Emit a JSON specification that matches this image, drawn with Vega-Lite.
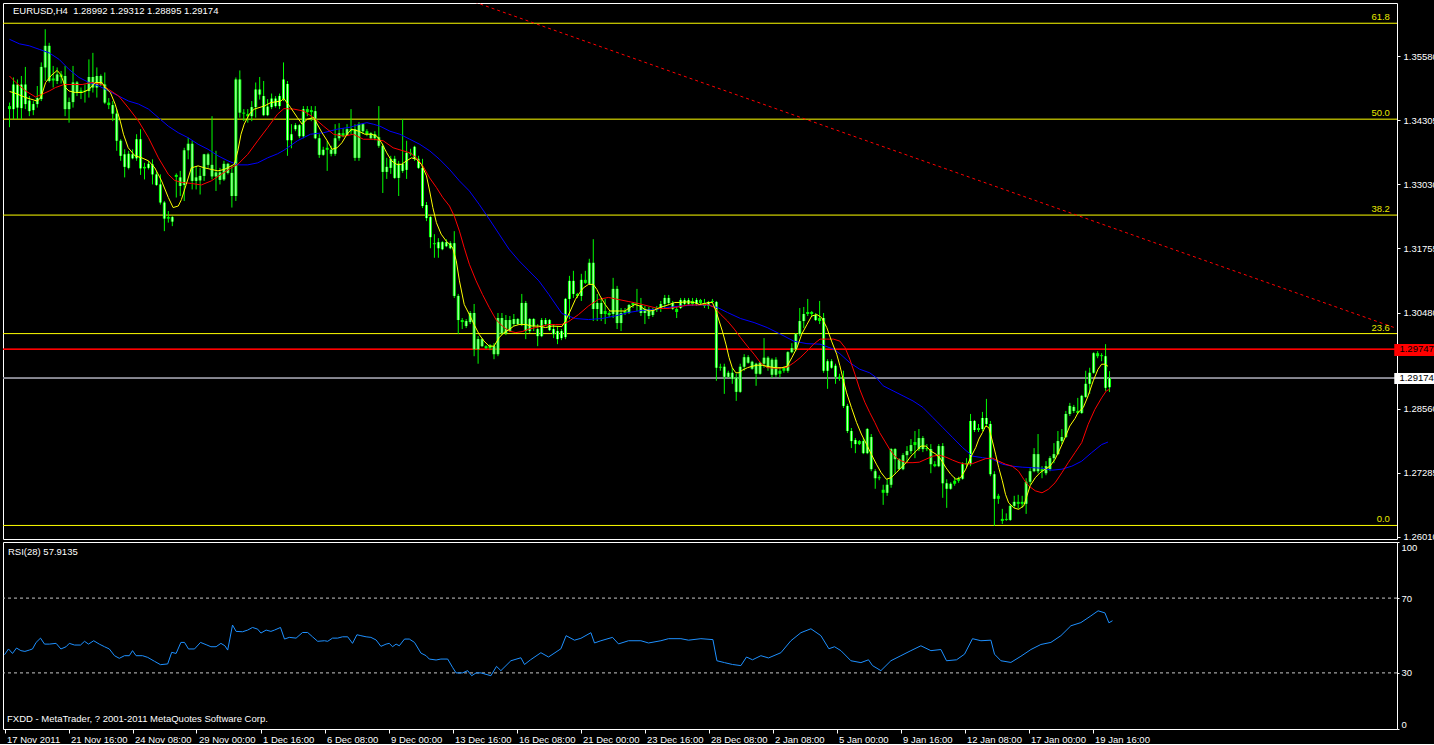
{
"$schema": "https://vega.github.io/schema/vega-lite/v6.json",
"background": "#000000",
"padding": {"left": 2, "top": 2, "right": 0, "bottom": 0},
"spacing": 3,
"bounds": "flush",
"config": {
 "view": {"stroke": "#ffffff", "strokeWidth": 1},
 "axis": {"labelFont": "Liberation Sans", "labelFontSize": 9.5, "labelColor": "#ffffff", "tickColor": "#ffffff", "domain": false, "grid": false},
 "text": {"font": "Liberation Sans", "fontSize": 9.5}
},
"resolve": {"scale": {"x": "independent", "y": "independent"}, "axis": {"x": "independent", "y": "independent"}},
"datasets": {
 "fib": [{"p":1.3624,"lab":"61.8"},{"p":1.3433,"lab":"50.0"},{"p":1.3242,"lab":"38.2"},{"p":1.3006,"lab":"23.6"},{"p":1.2624,"lab":"0.0"}],
 "trend": [{"i":110,"p":1.36861},{"i":349,"p":1.30172}],
 "c": [
{"i":0,"o":1.3453,"h":1.3466,"l":1.3417,"c":1.3459},
{"i":1,"o":1.3453,"h":1.3516,"l":1.3433,"c":1.3502},
{"i":2,"o":1.3502,"h":1.3512,"l":1.3433,"c":1.3456},
{"i":3,"o":1.3455,"h":1.3519,"l":1.3433,"c":1.3502},
{"i":4,"o":1.3502,"h":1.3537,"l":1.3453,"c":1.3463},
{"i":5,"o":1.3470,"h":1.3479,"l":1.3439,"c":1.3449},
{"i":6,"o":1.3451,"h":1.3469,"l":1.3441,"c":1.3463},
{"i":7,"o":1.3463,"h":1.3499,"l":1.3456,"c":1.3475},
{"i":8,"o":1.3473,"h":1.3546,"l":1.3469,"c":1.3537},
{"i":9,"o":1.3536,"h":1.3612,"l":1.3509,"c":1.3579},
{"i":10,"o":1.3579,"h":1.3585,"l":1.3506,"c":1.3509},
{"i":11,"o":1.3510,"h":1.3539,"l":1.3496,"c":1.3514},
{"i":12,"o":1.3509,"h":1.3536,"l":1.3503,"c":1.3522},
{"i":13,"o":1.3522,"h":1.3529,"l":1.3504,"c":1.3517},
{"i":14,"o":1.3519,"h":1.3539,"l":1.3439,"c":1.3453},
{"i":15,"o":1.3453,"h":1.3476,"l":1.3426,"c":1.3467},
{"i":16,"o":1.3467,"h":1.3539,"l":1.3456,"c":1.3506},
{"i":17,"o":1.3506,"h":1.3509,"l":1.3479,"c":1.3486},
{"i":18,"o":1.3486,"h":1.3496,"l":1.3473,"c":1.3490},
{"i":19,"o":1.3490,"h":1.3502,"l":1.3466,"c":1.3488},
{"i":20,"o":1.3489,"h":1.3552,"l":1.3476,"c":1.3517},
{"i":21,"o":1.3517,"h":1.3565,"l":1.3486,"c":1.3496},
{"i":22,"o":1.3496,"h":1.3536,"l":1.3476,"c":1.3519},
{"i":23,"o":1.3519,"h":1.3522,"l":1.3499,"c":1.3502},
{"i":24,"o":1.3502,"h":1.3526,"l":1.3463,"c":1.3466},
{"i":25,"o":1.3466,"h":1.3475,"l":1.3453,"c":1.3461},
{"i":26,"o":1.3461,"h":1.3469,"l":1.3429,"c":1.3444},
{"i":27,"o":1.3444,"h":1.3453,"l":1.3370,"c":1.3390},
{"i":28,"o":1.3390,"h":1.3393,"l":1.3350,"c":1.3360},
{"i":29,"o":1.3363,"h":1.3373,"l":1.3317,"c":1.3338},
{"i":30,"o":1.3336,"h":1.3370,"l":1.3333,"c":1.3364},
{"i":31,"o":1.3363,"h":1.3373,"l":1.3353,"c":1.3355},
{"i":32,"o":1.3355,"h":1.3403,"l":1.3350,"c":1.3393},
{"i":33,"o":1.3393,"h":1.3413,"l":1.3322,"c":1.3335},
{"i":34,"o":1.3335,"h":1.3346,"l":1.3313,"c":1.3338},
{"i":35,"o":1.3336,"h":1.3350,"l":1.3333,"c":1.3344},
{"i":36,"o":1.3343,"h":1.3353,"l":1.3303,"c":1.3323},
{"i":37,"o":1.3323,"h":1.3330,"l":1.3300,"c":1.3302},
{"i":38,"o":1.3303,"h":1.3323,"l":1.3263,"c":1.3267},
{"i":39,"o":1.3267,"h":1.3270,"l":1.3210,"c":1.3235},
{"i":40,"o":1.3235,"h":1.3250,"l":1.3227,"c":1.3238},
{"i":41,"o":1.3229,"h":1.3240,"l":1.3220,"c":1.3238},
{"i":42,"o":1.3318,"h":1.3325,"l":1.3277,"c":1.3322},
{"i":43,"o":1.3317,"h":1.3330,"l":1.3280,"c":1.3300},
{"i":44,"o":1.3302,"h":1.3376,"l":1.3270,"c":1.3371},
{"i":45,"o":1.3371,"h":1.3396,"l":1.3353,"c":1.3384},
{"i":46,"o":1.3384,"h":1.3390,"l":1.3293,"c":1.3310},
{"i":47,"o":1.3310,"h":1.3340,"l":1.3293,"c":1.3317},
{"i":48,"o":1.3311,"h":1.3336,"l":1.3283,"c":1.3320},
{"i":49,"o":1.3320,"h":1.3364,"l":1.3310,"c":1.3363},
{"i":50,"o":1.3363,"h":1.3366,"l":1.3336,"c":1.3342},
{"i":51,"o":1.3342,"h":1.3439,"l":1.3313,"c":1.3319},
{"i":52,"o":1.3319,"h":1.3370,"l":1.3290,"c":1.3327},
{"i":53,"o":1.3327,"h":1.3336,"l":1.3303,"c":1.3312},
{"i":54,"o":1.3313,"h":1.3350,"l":1.3310,"c":1.3344},
{"i":55,"o":1.3344,"h":1.3346,"l":1.3323,"c":1.3326},
{"i":56,"o":1.3326,"h":1.3340,"l":1.3257,"c":1.3280},
{"i":57,"o":1.3280,"h":1.3516,"l":1.3270,"c":1.3512},
{"i":58,"o":1.3512,"h":1.3530,"l":1.3436,"c":1.3446},
{"i":59,"o":1.3446,"h":1.3453,"l":1.3429,"c":1.3444},
{"i":60,"o":1.3443,"h":1.3453,"l":1.3426,"c":1.3439},
{"i":61,"o":1.3439,"h":1.3469,"l":1.3429,"c":1.3457},
{"i":62,"o":1.3457,"h":1.3506,"l":1.3436,"c":1.3492},
{"i":63,"o":1.3492,"h":1.3517,"l":1.3472,"c":1.3482},
{"i":64,"o":1.3479,"h":1.3509,"l":1.3439,"c":1.3441},
{"i":65,"o":1.3441,"h":1.3473,"l":1.3439,"c":1.3458},
{"i":66,"o":1.3457,"h":1.3484,"l":1.3453,"c":1.3474},
{"i":67,"o":1.3474,"h":1.3479,"l":1.3456,"c":1.3459},
{"i":68,"o":1.3459,"h":1.3484,"l":1.3453,"c":1.3479},
{"i":69,"o":1.3473,"h":1.3546,"l":1.3469,"c":1.3512},
{"i":70,"o":1.3503,"h":1.3509,"l":1.3360,"c":1.3391},
{"i":71,"o":1.3391,"h":1.3423,"l":1.3375,"c":1.3403},
{"i":72,"o":1.3413,"h":1.3425,"l":1.3409,"c":1.3421},
{"i":73,"o":1.3421,"h":1.3423,"l":1.3395,"c":1.3399},
{"i":74,"o":1.3399,"h":1.3459,"l":1.3395,"c":1.3453},
{"i":75,"o":1.3453,"h":1.3459,"l":1.3439,"c":1.3447},
{"i":76,"o":1.3447,"h":1.3459,"l":1.3429,"c":1.3451},
{"i":77,"o":1.3449,"h":1.3459,"l":1.3393,"c":1.3395},
{"i":78,"o":1.3395,"h":1.3403,"l":1.3356,"c":1.3362},
{"i":79,"o":1.3362,"h":1.3378,"l":1.3360,"c":1.3372},
{"i":80,"o":1.3372,"h":1.3390,"l":1.3330,"c":1.3376},
{"i":81,"o":1.3372,"h":1.3380,"l":1.3359,"c":1.3364},
{"i":82,"o":1.3364,"h":1.3423,"l":1.3360,"c":1.3395},
{"i":83,"o":1.3395,"h":1.3425,"l":1.3390,"c":1.3405},
{"i":84,"o":1.3405,"h":1.3415,"l":1.3397,"c":1.3399},
{"i":85,"o":1.3401,"h":1.3423,"l":1.3401,"c":1.3413},
{"i":86,"o":1.3413,"h":1.3453,"l":1.3403,"c":1.3409},
{"i":87,"o":1.3413,"h":1.3423,"l":1.3350,"c":1.3356},
{"i":88,"o":1.3356,"h":1.3427,"l":1.3350,"c":1.3423},
{"i":89,"o":1.3423,"h":1.3425,"l":1.3403,"c":1.3409},
{"i":90,"o":1.3409,"h":1.3413,"l":1.3399,"c":1.3403},
{"i":91,"o":1.3405,"h":1.3407,"l":1.3393,"c":1.3395},
{"i":92,"o":1.3395,"h":1.3409,"l":1.3391,"c":1.3403},
{"i":93,"o":1.3397,"h":1.3459,"l":1.3376,"c":1.3380},
{"i":94,"o":1.3380,"h":1.3384,"l":1.3286,"c":1.3328},
{"i":95,"o":1.3328,"h":1.3356,"l":1.3314,"c":1.3338},
{"i":96,"o":1.3336,"h":1.3360,"l":1.3324,"c":1.3354},
{"i":97,"o":1.3354,"h":1.3360,"l":1.3314,"c":1.3316},
{"i":98,"o":1.3316,"h":1.3350,"l":1.3280,"c":1.3344},
{"i":99,"o":1.3344,"h":1.3433,"l":1.3326,"c":1.3330},
{"i":100,"o":1.3332,"h":1.3390,"l":1.3314,"c":1.3366},
{"i":101,"o":1.3366,"h":1.3374,"l":1.3360,"c":1.3364},
{"i":102,"o":1.3378,"h":1.3380,"l":1.3350,"c":1.3354},
{"i":103,"o":1.3354,"h":1.3360,"l":1.3334,"c":1.3336},
{"i":104,"o":1.3336,"h":1.3354,"l":1.3256,"c":1.3260},
{"i":105,"o":1.3262,"h":1.3268,"l":1.3230,"c":1.3236},
{"i":106,"o":1.3238,"h":1.3240,"l":1.3176,"c":1.3198},
{"i":107,"o":1.3186,"h":1.3204,"l":1.3157,"c":1.3184},
{"i":108,"o":1.3176,"h":1.3196,"l":1.3157,"c":1.3188},
{"i":109,"o":1.3188,"h":1.3190,"l":1.3172,"c":1.3174},
{"i":110,"o":1.3180,"h":1.3194,"l":1.3178,"c":1.3188},
{"i":111,"o":1.3186,"h":1.3190,"l":1.3174,"c":1.3176},
{"i":112,"o":1.3186,"h":1.3210,"l":1.3077,"c":1.3081},
{"i":113,"o":1.3081,"h":1.3085,"l":1.3005,"c":1.3033},
{"i":114,"o":1.3033,"h":1.3037,"l":1.3015,"c":1.3029},
{"i":115,"o":1.3031,"h":1.3035,"l":1.3017,"c":1.3021},
{"i":116,"o":1.3029,"h":1.3051,"l":1.3025,"c":1.3047},
{"i":117,"o":1.3047,"h":1.3065,"l":1.2961,"c":1.2975},
{"i":118,"o":1.2975,"h":1.3001,"l":1.2946,"c":1.2995},
{"i":119,"o":1.2995,"h":1.2997,"l":1.2979,"c":1.2981},
{"i":120,"o":1.2981,"h":1.2983,"l":1.2975,"c":1.2977},
{"i":121,"o":1.2977,"h":1.2985,"l":1.2973,"c":1.2983},
{"i":122,"o":1.2981,"h":1.2987,"l":1.2955,"c":1.2965},
{"i":123,"o":1.2965,"h":1.3047,"l":1.2961,"c":1.3037},
{"i":124,"o":1.3037,"h":1.3047,"l":1.3003,"c":1.3007},
{"i":125,"o":1.3007,"h":1.3043,"l":1.3003,"c":1.3033},
{"i":126,"o":1.3033,"h":1.3041,"l":1.3009,"c":1.3011},
{"i":127,"o":1.3025,"h":1.3045,"l":1.3021,"c":1.3035},
{"i":128,"o":1.3035,"h":1.3037,"l":1.3023,"c":1.3025},
{"i":129,"o":1.3025,"h":1.3085,"l":1.3021,"c":1.3067},
{"i":130,"o":1.3067,"h":1.3071,"l":1.2995,"c":1.3011},
{"i":131,"o":1.3011,"h":1.3037,"l":1.3007,"c":1.3035},
{"i":132,"o":1.3035,"h":1.3037,"l":1.3011,"c":1.3021},
{"i":133,"o":1.3015,"h":1.3025,"l":1.2981,"c":1.3001},
{"i":134,"o":1.3001,"h":1.3037,"l":1.2999,"c":1.3033},
{"i":135,"o":1.3033,"h":1.3037,"l":1.3021,"c":1.3025},
{"i":136,"o":1.3033,"h":1.3035,"l":1.3011,"c":1.3013},
{"i":137,"o":1.3015,"h":1.3025,"l":1.2997,"c":1.3005},
{"i":138,"o":1.2995,"h":1.3021,"l":1.2985,"c":1.3011},
{"i":139,"o":1.3011,"h":1.3015,"l":1.2993,"c":1.2997},
{"i":140,"o":1.2999,"h":1.3077,"l":1.2995,"c":1.3075},
{"i":141,"o":1.3075,"h":1.3121,"l":1.3035,"c":1.3111},
{"i":142,"o":1.3111,"h":1.3131,"l":1.3077,"c":1.3085},
{"i":143,"o":1.3085,"h":1.3087,"l":1.3077,"c":1.3081},
{"i":144,"o":1.3081,"h":1.3125,"l":1.3071,"c":1.3113},
{"i":145,"o":1.3113,"h":1.3131,"l":1.3105,"c":1.3107},
{"i":146,"o":1.3105,"h":1.3155,"l":1.3103,"c":1.3147},
{"i":147,"o":1.3147,"h":1.3194,"l":1.3031,"c":1.3055},
{"i":148,"o":1.3055,"h":1.3085,"l":1.3031,"c":1.3067},
{"i":149,"o":1.3067,"h":1.3077,"l":1.3031,"c":1.3045},
{"i":150,"o":1.3045,"h":1.3075,"l":1.3025,"c":1.3051},
{"i":151,"o":1.3047,"h":1.3051,"l":1.3039,"c":1.3043},
{"i":152,"o":1.3045,"h":1.3117,"l":1.3037,"c":1.3095},
{"i":153,"o":1.3095,"h":1.3101,"l":1.3015,"c":1.3027},
{"i":154,"o":1.3027,"h":1.3057,"l":1.3011,"c":1.3047},
{"i":155,"o":1.3047,"h":1.3057,"l":1.3043,"c":1.3051},
{"i":156,"o":1.3047,"h":1.3065,"l":1.3045,"c":1.3063},
{"i":157,"o":1.3063,"h":1.3069,"l":1.3057,"c":1.3067},
{"i":158,"o":1.3067,"h":1.3095,"l":1.3051,"c":1.3065},
{"i":159,"o":1.3063,"h":1.3077,"l":1.3041,"c":1.3047},
{"i":160,"o":1.3047,"h":1.3061,"l":1.3025,"c":1.3055},
{"i":161,"o":1.3055,"h":1.3059,"l":1.3035,"c":1.3041},
{"i":162,"o":1.3043,"h":1.3057,"l":1.3039,"c":1.3053},
{"i":163,"o":1.3053,"h":1.3061,"l":1.3049,"c":1.3057},
{"i":164,"o":1.3055,"h":1.3071,"l":1.3049,"c":1.3065},
{"i":165,"o":1.3065,"h":1.3083,"l":1.3055,"c":1.3077},
{"i":166,"o":1.3077,"h":1.3083,"l":1.3063,"c":1.3067},
{"i":167,"o":1.3067,"h":1.3071,"l":1.3053,"c":1.3055},
{"i":168,"o":1.3055,"h":1.3061,"l":1.3037,"c":1.3049},
{"i":169,"o":1.3057,"h":1.3077,"l":1.3055,"c":1.3073},
{"i":170,"o":1.3073,"h":1.3077,"l":1.3061,"c":1.3065},
{"i":171,"o":1.3065,"h":1.3077,"l":1.3061,"c":1.3073},
{"i":172,"o":1.3071,"h":1.3077,"l":1.3061,"c":1.3065},
{"i":173,"o":1.3065,"h":1.3077,"l":1.3061,"c":1.3073},
{"i":174,"o":1.3073,"h":1.3075,"l":1.3063,"c":1.3067},
{"i":175,"o":1.3067,"h":1.3075,"l":1.3057,"c":1.3061},
{"i":176,"o":1.3061,"h":1.3071,"l":1.3055,"c":1.3069},
{"i":177,"o":1.3069,"h":1.3075,"l":1.3067,"c":1.3071},
{"i":178,"o":1.3069,"h":1.3071,"l":1.2912,"c":1.2938},
{"i":179,"o":1.2938,"h":1.2946,"l":1.2932,"c":1.2940},
{"i":180,"o":1.2940,"h":1.2946,"l":1.2886,"c":1.2920},
{"i":181,"o":1.2920,"h":1.2932,"l":1.2918,"c":1.2928},
{"i":182,"o":1.2928,"h":1.2938,"l":1.2906,"c":1.2916},
{"i":183,"o":1.2918,"h":1.2926,"l":1.2872,"c":1.2890},
{"i":184,"o":1.2890,"h":1.2946,"l":1.2888,"c":1.2940},
{"i":185,"o":1.2940,"h":1.2965,"l":1.2932,"c":1.2959},
{"i":186,"o":1.2959,"h":1.2963,"l":1.2946,"c":1.2948},
{"i":187,"o":1.2950,"h":1.2952,"l":1.2934,"c":1.2936},
{"i":188,"o":1.2946,"h":1.2948,"l":1.2902,"c":1.2926},
{"i":189,"o":1.2926,"h":1.2950,"l":1.2924,"c":1.2948},
{"i":190,"o":1.2946,"h":1.2997,"l":1.2938,"c":1.2958},
{"i":191,"o":1.2958,"h":1.2961,"l":1.2932,"c":1.2938},
{"i":192,"o":1.2954,"h":1.2957,"l":1.2918,"c":1.2924},
{"i":193,"o":1.2924,"h":1.2959,"l":1.2920,"c":1.2954},
{"i":194,"o":1.2932,"h":1.2938,"l":1.2918,"c":1.2926},
{"i":195,"o":1.2932,"h":1.2940,"l":1.2928,"c":1.2938},
{"i":196,"o":1.2932,"h":1.2971,"l":1.2928,"c":1.2969},
{"i":197,"o":1.2969,"h":1.2987,"l":1.2967,"c":1.2977},
{"i":198,"o":1.2975,"h":1.3007,"l":1.2971,"c":1.3005},
{"i":199,"o":1.3005,"h":1.3057,"l":1.3001,"c":1.3031},
{"i":200,"o":1.3031,"h":1.3059,"l":1.3017,"c":1.3045},
{"i":201,"o":1.3045,"h":1.3075,"l":1.3041,"c":1.3049},
{"i":202,"o":1.3049,"h":1.3051,"l":1.3039,"c":1.3045},
{"i":203,"o":1.3043,"h":1.3047,"l":1.3031,"c":1.3033},
{"i":204,"o":1.3037,"h":1.3071,"l":1.3025,"c":1.3031},
{"i":205,"o":1.3037,"h":1.3047,"l":1.2928,"c":1.2932},
{"i":206,"o":1.2932,"h":1.2955,"l":1.2896,"c":1.2951},
{"i":207,"o":1.2951,"h":1.2955,"l":1.2936,"c":1.2938},
{"i":208,"o":1.2942,"h":1.2946,"l":1.2906,"c":1.2920},
{"i":209,"o":1.2920,"h":1.2926,"l":1.2912,"c":1.2916},
{"i":210,"o":1.2916,"h":1.2932,"l":1.2858,"c":1.2862},
{"i":211,"o":1.2862,"h":1.2866,"l":1.2808,"c":1.2812},
{"i":212,"o":1.2812,"h":1.2818,"l":1.2778,"c":1.2792},
{"i":213,"o":1.2794,"h":1.2798,"l":1.2768,"c":1.2786},
{"i":214,"o":1.2786,"h":1.2794,"l":1.2784,"c":1.2792},
{"i":215,"o":1.2792,"h":1.2798,"l":1.2766,"c":1.2768},
{"i":216,"o":1.2768,"h":1.2818,"l":1.2766,"c":1.2816},
{"i":217,"o":1.2800,"h":1.2806,"l":1.2732,"c":1.2736},
{"i":218,"o":1.2732,"h":1.2736,"l":1.2697,"c":1.2718},
{"i":219,"o":1.2720,"h":1.2724,"l":1.2714,"c":1.2718},
{"i":220,"o":1.2695,"h":1.2705,"l":1.2665,"c":1.2689},
{"i":221,"o":1.2689,"h":1.2717,"l":1.2683,"c":1.2705},
{"i":222,"o":1.2705,"h":1.2778,"l":1.2699,"c":1.2776},
{"i":223,"o":1.2776,"h":1.2778,"l":1.2727,"c":1.2756},
{"i":224,"o":1.2756,"h":1.2758,"l":1.2734,"c":1.2736},
{"i":225,"o":1.2736,"h":1.2768,"l":1.2734,"c":1.2764},
{"i":226,"o":1.2764,"h":1.2782,"l":1.2748,"c":1.2772},
{"i":227,"o":1.2772,"h":1.2796,"l":1.2766,"c":1.2784},
{"i":228,"o":1.2784,"h":1.2812,"l":1.2758,"c":1.2790},
{"i":229,"o":1.2776,"h":1.2816,"l":1.2772,"c":1.2798},
{"i":230,"o":1.2798,"h":1.2802,"l":1.2770,"c":1.2776},
{"i":231,"o":1.2778,"h":1.2786,"l":1.2772,"c":1.2776},
{"i":232,"o":1.2776,"h":1.2786,"l":1.2728,"c":1.2746},
{"i":233,"o":1.2746,"h":1.2752,"l":1.2740,"c":1.2742},
{"i":234,"o":1.2742,"h":1.2786,"l":1.2740,"c":1.2782},
{"i":235,"o":1.2782,"h":1.2788,"l":1.2679,"c":1.2708},
{"i":236,"o":1.2708,"h":1.2716,"l":1.2659,"c":1.2697},
{"i":237,"o":1.2697,"h":1.2710,"l":1.2695,"c":1.2707},
{"i":238,"o":1.2707,"h":1.2720,"l":1.2703,"c":1.2713},
{"i":239,"o":1.2713,"h":1.2721,"l":1.2709,"c":1.2717},
{"i":240,"o":1.2717,"h":1.2750,"l":1.2715,"c":1.2746},
{"i":241,"o":1.2746,"h":1.2758,"l":1.2740,"c":1.2748},
{"i":242,"o":1.2746,"h":1.2846,"l":1.2742,"c":1.2832},
{"i":243,"o":1.2832,"h":1.2834,"l":1.2810,"c":1.2814},
{"i":244,"o":1.2814,"h":1.2826,"l":1.2810,"c":1.2818},
{"i":245,"o":1.2816,"h":1.2850,"l":1.2812,"c":1.2838},
{"i":246,"o":1.2838,"h":1.2876,"l":1.2822,"c":1.2826},
{"i":247,"o":1.2826,"h":1.2832,"l":1.2722,"c":1.2726},
{"i":248,"o":1.2726,"h":1.2732,"l":1.2623,"c":1.2677},
{"i":249,"o":1.2677,"h":1.2687,"l":1.2667,"c":1.2683},
{"i":250,"o":1.2637,"h":1.2657,"l":1.2627,"c":1.2633},
{"i":251,"o":1.2635,"h":1.2648,"l":1.2633,"c":1.2637},
{"i":252,"o":1.2635,"h":1.2667,"l":1.2633,"c":1.2663},
{"i":253,"o":1.2663,"h":1.2683,"l":1.2659,"c":1.2671},
{"i":254,"o":1.2671,"h":1.2685,"l":1.2657,"c":1.2667},
{"i":255,"o":1.2667,"h":1.2683,"l":1.2659,"c":1.2671},
{"i":256,"o":1.2667,"h":1.2718,"l":1.2647,"c":1.2711},
{"i":257,"o":1.2711,"h":1.2738,"l":1.2705,"c":1.2732},
{"i":258,"o":1.2732,"h":1.2778,"l":1.2730,"c":1.2766},
{"i":259,"o":1.2766,"h":1.2806,"l":1.2728,"c":1.2732},
{"i":260,"o":1.2732,"h":1.2742,"l":1.2718,"c":1.2736},
{"i":261,"o":1.2728,"h":1.2752,"l":1.2724,"c":1.2742},
{"i":262,"o":1.2736,"h":1.2762,"l":1.2732,"c":1.2758},
{"i":263,"o":1.2758,"h":1.2788,"l":1.2748,"c":1.2766},
{"i":264,"o":1.2766,"h":1.2812,"l":1.2764,"c":1.2792},
{"i":265,"o":1.2792,"h":1.2816,"l":1.2786,"c":1.2800},
{"i":266,"o":1.2800,"h":1.2852,"l":1.2798,"c":1.2846},
{"i":267,"o":1.2846,"h":1.2868,"l":1.2842,"c":1.2862},
{"i":268,"o":1.2860,"h":1.2864,"l":1.2848,"c":1.2852},
{"i":269,"o":1.2852,"h":1.2878,"l":1.2846,"c":1.2848},
{"i":270,"o":1.2848,"h":1.2884,"l":1.2846,"c":1.2882},
{"i":271,"o":1.2880,"h":1.2932,"l":1.2878,"c":1.2906},
{"i":272,"o":1.2906,"h":1.2938,"l":1.2886,"c":1.2928},
{"i":273,"o":1.2928,"h":1.2969,"l":1.2926,"c":1.2967},
{"i":274,"o":1.2967,"h":1.2971,"l":1.2957,"c":1.2961},
{"i":275,"o":1.2961,"h":1.2967,"l":1.2951,"c":1.2963},
{"i":276,"o":1.2961,"h":1.2985,"l":1.2892,"c":1.2898},
{"i":277,"o":1.28992,"h":1.29312,"l":1.28895,"c":1.29174}
 ],
 "ma1": [
{"i":0,"v":1.3488},{"i":1,"v":1.3486},{"i":4.1,"v":1.3476},{"i":7,"v":1.3469},{"i":7.9,"v":1.3476},{"i":9.1,"v":1.3506},{"i":10.4,"v":1.3519},{"i":12,"v":1.3530},{"i":12.9,"v":1.3522},{"i":14.1,"v":1.3496},{"i":15,"v":1.3489},{"i":16.6,"v":1.3486},{"i":18.3,"v":1.3486},{"i":20,"v":1.3492},{"i":21.6,"v":1.3506},{"i":23.3,"v":1.3506},{"i":24.1,"v":1.3496},{"i":25.4,"v":1.3486},{"i":26.6,"v":1.3463},{"i":27.9,"v":1.3429},{"i":28.7,"v":1.3403},{"i":29.9,"v":1.3376},{"i":31.6,"v":1.3360},{"i":33.3,"v":1.3356},{"i":35,"v":1.3350},{"i":36.6,"v":1.3336},{"i":38.3,"v":1.3310},{"i":40,"v":1.3277},{"i":41.2,"v":1.3257},{"i":42.5,"v":1.3260},{"i":43.3,"v":1.3273},{"i":44.5,"v":1.3303},{"i":45.8,"v":1.3336},{"i":47.5,"v":1.3340},{"i":49.1,"v":1.3336},{"i":50.8,"v":1.3333},{"i":52.5,"v":1.3330},{"i":54.1,"v":1.3333},{"i":56.6,"v":1.3343},{"i":57.5,"v":1.3370},{"i":58.3,"v":1.3403},{"i":59.1,"v":1.3423},{"i":60.4,"v":1.3443},{"i":61.6,"v":1.3453},{"i":64.1,"v":1.3459},{"i":65.8,"v":1.3466},{"i":68.3,"v":1.3469},{"i":69.1,"v":1.3474},
{"i":70.8,"v":1.3456},{"i":72.5,"v":1.3436},{"i":73.7,"v":1.3423},{"i":75,"v":1.3433},{"i":76.6,"v":1.3436},{"i":77.5,"v":1.3423},{"i":78.7,"v":1.3406},{"i":80,"v":1.3390},{"i":81.2,"v":1.3373},{"i":82.5,"v":1.3376},{"i":83.7,"v":1.3386},{"i":85,"v":1.3403},{"i":86.2,"v":1.3413},{"i":87.9,"v":1.3409},{"i":89.5,"v":1.3403},{"i":91.2,"v":1.3403},{"i":92.5,"v":1.3399},{"i":93.7,"v":1.3386},{"i":95,"v":1.3366},{"i":96.2,"v":1.3350},{"i":97.5,"v":1.3343},{"i":98.7,"v":1.3343},{"i":100,"v":1.3350},{"i":101.2,"v":1.3356},{"i":102.5,"v":1.3353},{"i":103.7,"v":1.3343},{"i":105,"v":1.3320},{"i":105.8,"v":1.3290},{"i":106.6,"v":1.3257},{"i":107.5,"v":1.3227},{"i":108.7,"v":1.3204},{"i":110,"v":1.3190},{"i":110.8,"v":1.3184},{"i":111.6,"v":1.3177},{"i":112.5,"v":1.3151},{"i":113.3,"v":1.3111},{"i":114.5,"v":1.3064},{"i":115.8,"v":1.3044},{"i":117,"v":1.3024},{"i":118.3,"v":1.3004},{"i":119.5,"v":1.2991},{"i":120.8,"v":1.2981},{"i":122,"v":1.2981},{"i":123.3,"v":1.2998},{"i":124.5,"v":1.3008},{"i":125.8,"v":1.3014},{"i":127,"v":1.3021},{"i":128.3,"v":1.3024},{"i":130,"v":1.3024},{"i":131.6,"v":1.3021},{"i":133.3,"v":1.3021},{"i":135,"v":1.3018},{"i":136.6,"v":1.3021},{"i":139.1,"v":1.3020},
{"i":140,"v":1.3031},{"i":141.2,"v":1.3051},{"i":142.5,"v":1.3074},{"i":143.3,"v":1.3084},{"i":144.5,"v":1.3097},{"i":145.8,"v":1.3104},{"i":147,"v":1.3104},{"i":147.9,"v":1.3094},{"i":148.7,"v":1.3081},{"i":150,"v":1.3064},{"i":151.2,"v":1.3051},{"i":152.5,"v":1.3051},{"i":153.7,"v":1.3051},{"i":155,"v":1.3051},{"i":156.2,"v":1.3058},{"i":157.5,"v":1.3064},{"i":158.7,"v":1.3061},{"i":160,"v":1.3054},{"i":161.2,"v":1.3051},{"i":162.5,"v":1.3053},{"i":163.7,"v":1.3058},{"i":165,"v":1.3061},{"i":166.2,"v":1.3064},{"i":167.5,"v":1.3068},{"i":168.7,"v":1.3068},{"i":170,"v":1.3069},{"i":171.2,"v":1.3069},{"i":172.5,"v":1.3068},{"i":173.7,"v":1.3064},{"i":175,"v":1.3066},{"i":176.2,"v":1.3068},{"i":177,"v":1.3068},{"i":177.9,"v":1.3051},{"i":178.7,"v":1.3031},{"i":179.5,"v":1.3011},{"i":180.4,"v":1.2985},{"i":181.2,"v":1.2958},{"i":182,"v":1.2938},{"i":182.9,"v":1.2928},{"i":183.7,"v":1.2928},{"i":184.5,"v":1.2933},{"i":185.8,"v":1.2938},{"i":187,"v":1.2941},{"i":188.3,"v":1.2943},{"i":189.5,"v":1.2943},{"i":190.8,"v":1.2941},{"i":192,"v":1.2939},{"i":193.3,"v":1.2938},{"i":194.5,"v":1.2938},{"i":195.8,"v":1.2941},{"i":197,"v":1.2958},{"i":198.3,"v":1.2978},{"i":199.5,"v":1.3005},{"i":200.8,"v":1.3024},{"i":202,"v":1.3041},{"i":203.3,"v":1.3044},{"i":204.5,"v":1.3038},{"i":205.8,"v":1.3018},{"i":207,"v":1.2991},{"i":208.3,"v":1.2965},{"i":209.1,"v":1.2942},
{"i":210,"v":1.2912},{"i":210.8,"v":1.2888},{"i":212,"v":1.2859},{"i":213.3,"v":1.2829},{"i":214.5,"v":1.2806},{"i":215.8,"v":1.2786},{"i":217,"v":1.2766},{"i":218.3,"v":1.2746},{"i":219.5,"v":1.2729},{"i":220.8,"v":1.2716},{"i":222,"v":1.2719},{"i":223.3,"v":1.2729},{"i":224.5,"v":1.2739},{"i":225.8,"v":1.2749},{"i":227,"v":1.2762},{"i":228.3,"v":1.2772},{"i":229.5,"v":1.2782},{"i":230.8,"v":1.2782},{"i":232,"v":1.2772},{"i":233.3,"v":1.2766},{"i":234.5,"v":1.2756},{"i":235.8,"v":1.2739},{"i":237,"v":1.2726},{"i":238.3,"v":1.2716},{"i":239.5,"v":1.2719},{"i":240.8,"v":1.2736},{"i":242,"v":1.2759},{"i":243.3,"v":1.2779},{"i":244.1,"v":1.2796},{"i":245,"v":1.2809},{"i":245.8,"v":1.2822},{"i":246.6,"v":1.2819},{"i":247.5,"v":1.2792},{"i":248.3,"v":1.2766},{"i":249.1,"v":1.2739},{"i":250,"v":1.2713},{"i":250.8,"v":1.2686},{"i":251.6,"v":1.2669},{"i":252.9,"v":1.2659},{"i":254.1,"v":1.2656},{"i":255.4,"v":1.2663},{"i":256.2,"v":1.2683},{"i":257,"v":1.2703},{"i":258.3,"v":1.2719},{"i":259.5,"v":1.2729},{"i":260.8,"v":1.2736},{"i":262,"v":1.2742},{"i":263.3,"v":1.2756},{"i":264.5,"v":1.2776},{"i":265.8,"v":1.2799},{"i":267,"v":1.2822},{"i":268.3,"v":1.2837},{"i":269.1,"v":1.2849},{"i":270.4,"v":1.2859},{"i":271.6,"v":1.2882},{"i":272.9,"v":1.2912},{"i":274.1,"v":1.2935},{"i":275,"v":1.2945},{"i":275.8,"v":1.2945},{"i":276.6,"v":1.2941}
 ],
 "ma2": [
{"i":0,"v":1.3519},{"i":1.6,"v":1.3506},{"i":4.1,"v":1.3489},{"i":6.6,"v":1.3477},{"i":8.3,"v":1.3483},{"i":10,"v":1.3489},{"i":11.6,"v":1.3496},{"i":13.7,"v":1.3502},{"i":15.8,"v":1.3502},{"i":18.3,"v":1.3502},{"i":20.8,"v":1.3506},{"i":23.3,"v":1.3502},{"i":25,"v":1.3492},{"i":27.5,"v":1.3479},{"i":29.9,"v":1.3456},{"i":32.5,"v":1.3429},{"i":35,"v":1.3396},{"i":37.5,"v":1.3356},{"i":40,"v":1.3323},{"i":41.6,"v":1.3311},{"i":43.3,"v":1.3307},{"i":45.8,"v":1.3305},{"i":48.3,"v":1.3302},{"i":50.8,"v":1.3310},{"i":53.3,"v":1.3323},{"i":55.8,"v":1.3336},{"i":57.5,"v":1.3343},{"i":60,"v":1.3363},{"i":62.5,"v":1.3390},{"i":65,"v":1.3416},{"i":67.5,"v":1.3443},{"i":69.1,"v":1.3454},{"i":71.6,"v":1.3453},{"i":74.1,"v":1.3449},{"i":76.6,"v":1.3436},{"i":79.1,"v":1.3419},{"i":81.6,"v":1.3403},{"i":84.1,"v":1.3399},{"i":86.6,"v":1.3403},{"i":89.1,"v":1.3393},{"i":91.6,"v":1.3393},{"i":94.1,"v":1.3390},{"i":96.6,"v":1.3376},{"i":99.1,"v":1.3370},{"i":100.8,"v":1.3366},{"i":102.5,"v":1.3356},{"i":104.1,"v":1.3340},{"i":105.8,"v":1.3316},{"i":107.5,"v":1.3297},{"i":109.1,"v":1.3277},{"i":110.8,"v":1.3260},{"i":112,"v":1.3240},{"i":113.3,"v":1.3210},{"i":114.5,"v":1.3177},{"i":115.8,"v":1.3144},{"i":117.5,"v":1.3111},{"i":119.1,"v":1.3084},{"i":120.8,"v":1.3058},{"i":122.5,"v":1.3034},{"i":124.1,"v":1.3021},{"i":125.8,"v":1.3011},{"i":127.5,"v":1.3008},{"i":129.1,"v":1.3010},{"i":130.8,"v":1.3015},{"i":132.5,"v":1.3018},{"i":134.1,"v":1.3021},{"i":135.8,"v":1.3024},{"i":137.5,"v":1.3024},{"i":139.1,"v":1.3024},{"i":140.8,"v":1.3030},{"i":143.3,"v":1.3044},{"i":145.8,"v":1.3061},{"i":148.3,"v":1.3074},{"i":150.8,"v":1.3078},{"i":153.3,"v":1.3074},{"i":155.8,"v":1.3070},{"i":158.3,"v":1.3066},{"i":160.8,"v":1.3061},{"i":163.3,"v":1.3056},{"i":165.8,"v":1.3056},{"i":168.3,"v":1.3059},{"i":170.8,"v":1.3063},{"i":173.3,"v":1.3063},{"i":175.8,"v":1.3064},{"i":177.5,"v":1.3058},{"i":179.1,"v":1.3044},{"i":180.8,"v":1.3031},{"i":182.5,"v":1.3015},{"i":184.1,"v":1.2998},{"i":185.8,"v":1.2981},{"i":187.5,"v":1.2965},{"i":189.1,"v":1.2948},{"i":190.8,"v":1.2938},{"i":193.3,"v":1.2937},{"i":195.8,"v":1.2939},{"i":197.5,"v":1.2948},{"i":199.1,"v":1.2958},{"i":200.8,"v":1.2971},{"i":202.5,"v":1.2985},{"i":204.1,"v":1.2995},{"i":205.8,"v":1.2995},{"i":207.5,"v":1.2995},{"i":209.1,"v":1.2991},{"i":210.4,"v":1.2978},{"i":211.6,"v":1.2955},{"i":212.9,"v":1.2925},{"i":214.1,"v":1.2895},{"i":215.4,"v":1.2869},{"i":216.6,"v":1.2849},{"i":217.9,"v":1.2829},{"i":219.1,"v":1.2809},{"i":220.4,"v":1.2792},{"i":221.6,"v":1.2776},{"i":222.9,"v":1.2762},{"i":224.1,"v":1.2754},{"i":225.8,"v":1.2749},{"i":227.5,"v":1.2749},{"i":229.1,"v":1.2750},{"i":230.8,"v":1.2756},{"i":232.5,"v":1.2762},{"i":234.1,"v":1.2764},{"i":235.8,"v":1.2760},{"i":237.5,"v":1.2754},{"i":239.1,"v":1.2749},{"i":240.8,"v":1.2746},{"i":242.5,"v":1.2747},{"i":244.1,"v":1.2752},{"i":245.8,"v":1.2757},{"i":247.5,"v":1.2758},{"i":249.1,"v":1.2752},{"i":250.8,"v":1.2746},{"i":252.5,"v":1.2742},{"i":254.1,"v":1.2732},{"i":255.4,"v":1.2716},{"i":256.6,"v":1.2703},{"i":258.3,"v":1.2693},{"i":260,"v":1.2689},{"i":261.6,"v":1.2696},{"i":263.3,"v":1.2709},{"i":265,"v":1.2729},{"i":266.6,"v":1.2749},{"i":268.3,"v":1.2769},{"i":270,"v":1.2789},{"i":271.6,"v":1.2825},{"i":273.3,"v":1.2855},{"i":275,"v":1.2878},{"i":276.2,"v":1.2892},{"i":277,"v":1.2895}
 ],
 "ma3": [
{"i":0,"v":1.3592},{"i":2.5,"v":1.3583},{"i":5,"v":1.3579},{"i":7.5,"v":1.3572},{"i":10,"v":1.3565},{"i":12.5,"v":1.3552},{"i":15,"v":1.3532},{"i":17.5,"v":1.3516},{"i":20,"v":1.3506},{"i":22.5,"v":1.3499},{"i":25,"v":1.3489},{"i":27.5,"v":1.3479},{"i":30,"v":1.3469},{"i":32.5,"v":1.3463},{"i":35,"v":1.3453},{"i":37.5,"v":1.3436},{"i":40,"v":1.3419},{"i":42.5,"v":1.3406},{"i":45,"v":1.3396},{"i":47.5,"v":1.3383},{"i":50,"v":1.3373},{"i":52.5,"v":1.3360},{"i":55,"v":1.3350},{"i":57.5,"v":1.3342},{"i":60,"v":1.3342},{"i":62.5,"v":1.3346},{"i":65,"v":1.3356},{"i":67.5,"v":1.3364},{"i":69.1,"v":1.3371},{"i":72.5,"v":1.3390},{"i":75.8,"v":1.3403},{"i":79.1,"v":1.3406},{"i":82.5,"v":1.3413},{"i":85.8,"v":1.3417},{"i":88.3,"v":1.3423},{"i":90,"v":1.3426},{"i":91.6,"v":1.3423},{"i":93.3,"v":1.3419},{"i":95.8,"v":1.3409},{"i":98.3,"v":1.3403},{"i":100.8,"v":1.3393},{"i":103.3,"v":1.3383},{"i":105.8,"v":1.3370},{"i":108.3,"v":1.3353},{"i":110.8,"v":1.3333},{"i":113.3,"v":1.3310},{"i":115.8,"v":1.3290},{"i":118.3,"v":1.3263},{"i":120.8,"v":1.3234},{"i":123.3,"v":1.3204},{"i":125.8,"v":1.3174},{"i":128.3,"v":1.3151},{"i":130.8,"v":1.3131},{"i":133.3,"v":1.3111},{"i":135.8,"v":1.3084},{"i":139.1,"v":1.3046},{"i":142.5,"v":1.3036},{"i":145.8,"v":1.3034},{"i":149.1,"v":1.3036},{"i":152.5,"v":1.3041},{"i":155.8,"v":1.3048},{"i":159.1,"v":1.3052},{"i":162.5,"v":1.3054},{"i":165.8,"v":1.3058},{"i":169.1,"v":1.3061},{"i":172.5,"v":1.3063},{"i":175.8,"v":1.3063},{"i":178.3,"v":1.3058},{"i":180.8,"v":1.3048},{"i":184.1,"v":1.3036},{"i":187.5,"v":1.3028},{"i":190.8,"v":1.3018},{"i":194.1,"v":1.3005},{"i":197.5,"v":1.2991},{"i":200.8,"v":1.2986},{"i":204.1,"v":1.2985},{"i":207.5,"v":1.2975},{"i":209.1,"v":1.2966},{"i":211.6,"v":1.2948},{"i":214.1,"v":1.2935},{"i":216.6,"v":1.2928},{"i":218.3,"v":1.2918},{"i":220,"v":1.2902},{"i":222.5,"v":1.2892},{"i":225,"v":1.2882},{"i":227.5,"v":1.2872},{"i":230,"v":1.2859},{"i":232.5,"v":1.2839},{"i":235,"v":1.2819},{"i":237.5,"v":1.2799},{"i":240,"v":1.2779},{"i":242.5,"v":1.2762},{"i":245,"v":1.2759},{"i":247.5,"v":1.2756},{"i":250,"v":1.2746},{"i":252.5,"v":1.2742},{"i":255,"v":1.2740},{"i":257.5,"v":1.2739},{"i":260,"v":1.2738},{"i":262.5,"v":1.2734},{"i":265,"v":1.2736},{"i":267.5,"v":1.2742},{"i":270,"v":1.2752},{"i":272.5,"v":1.2769},{"i":275,"v":1.2785},{"i":276.6,"v":1.2790}
 ],
 "rsi": [
{"i":0,"v":39.7},{"i":1,"v":42.8},{"i":2,"v":40.4},{"i":3,"v":43.3},{"i":4.1,"v":41.9},{"i":5.1,"v":41.5},{"i":6.2,"v":42.2},{"i":7,"v":42.8},{"i":7.9,"v":46.3},{"i":9,"v":48.6},{"i":10,"v":45.4},{"i":11.2,"v":45.4},{"i":12.9,"v":45.8},{"i":14.1,"v":42.8},{"i":15.4,"v":44.0},{"i":16.2,"v":45.8},{"i":17.5,"v":44.9},{"i":19,"v":44.9},{"i":20,"v":46.9},{"i":21,"v":45.4},{"i":22.3,"v":47.2},{"i":23.7,"v":45.4},{"i":25,"v":44.0},{"i":26.2,"v":42.8},{"i":27.5,"v":39.2},{"i":28.7,"v":37.8},{"i":30,"v":39.2},{"i":31.2,"v":39.2},{"i":32,"v":41.9},{"i":32.9,"v":39.2},{"i":34.5,"v":39.2},{"i":35.8,"v":38.3},{"i":37.5,"v":36.2},{"i":39,"v":34.4},{"i":40.8,"v":34.8},{"i":41.8,"v":41.0},{"i":42.9,"v":40.4},{"i":44.1,"v":46.3},{"i":45,"v":46.3},{"i":46,"v":42.8},{"i":47.5,"v":42.8},{"i":49,"v":46.3},{"i":50.4,"v":45.1},{"i":51.6,"v":44.0},{"i":52.9,"v":44.0},{"i":54.1,"v":45.8},{"i":55.1,"v":44.5},{"i":55.8,"v":42.2},{"i":57,"v":55.6},{"i":57.9,"v":52.2},{"i":59.5,"v":52.0},{"i":60.8,"v":52.9},{"i":62,"v":54.3},{"i":63.3,"v":53.4},{"i":64.1,"v":51.3},{"i":65.4,"v":52.9},{"i":66.6,"v":52.2},{"i":67.5,"v":52.9},{"i":69,"v":54.3},{"i":70,"v":48.1},{"i":71.2,"v":49.0},{"i":72.9,"v":48.6},{"i":74.5,"v":51.6},{"i":75.8,"v":51.6},{"i":77,"v":49.3},{"i":78.3,"v":46.9},{"i":80,"v":47.2},{"i":80.8,"v":46.9},{"i":82,"v":48.6},{"i":83.3,"v":48.6},{"i":84.5,"v":49.3},{"i":85.8,"v":49.3},{"i":87,"v":45.8},{"i":88.1,"v":50.4},{"i":89.1,"v":49.9},{"i":90.4,"v":49.3},{"i":91.6,"v":49.0},{"i":92.9,"v":47.6},{"i":94.1,"v":44.2},{"i":95.4,"v":45.4},{"i":96.2,"v":45.8},{"i":97,"v":44.0},{"i":97.9,"v":45.4},{"i":98.7,"v":44.5},{"i":100,"v":48.1},{"i":101.2,"v":48.1},{"i":102.5,"v":46.3},{"i":104.1,"v":40.6},{"i":105.4,"v":39.2},{"i":106.2,"v":37.4},{"i":107.9,"v":36.9},{"i":109.1,"v":37.4},{"i":110.8,"v":37.4},{"i":112,"v":33.0},{"i":112.9,"v":30.0},{"i":114.5,"v":30.0},{"i":115.8,"v":31.2},{"i":116.8,"v":28.5},{"i":117.9,"v":30.0},{"i":119.1,"v":30.0},
{"i":121.6,"v":28.5},{"i":123,"v":33.5},{"i":124.1,"v":31.2},{"i":126.6,"v":36.5},{"i":129.1,"v":38.1},{"i":130,"v":34.5},{"i":131.5,"v":37.0},{"i":134.1,"v":40.8},{"i":136,"v":38.5},{"i":139.1,"v":42.9},{"i":140.4,"v":49.9},{"i":142.5,"v":47.5},{"i":144.1,"v":48.5},{"i":146.6,"v":51.5},{"i":147.5,"v":46.0},{"i":149.1,"v":47.2},{"i":152,"v":49.0},{"i":153.5,"v":45.5},{"i":156,"v":47.2},{"i":159.1,"v":47.2},{"i":161,"v":46.0},{"i":164.1,"v":47.2},{"i":166,"v":48.3},{"i":169.1,"v":48.3},{"i":171,"v":47.5},{"i":174.1,"v":48.3},{"i":177.1,"v":47.8},{"i":178.1,"v":36.5},{"i":180,"v":35.5},{"i":182,"v":34.5},{"i":184.1,"v":33.9},{"i":185.5,"v":38.5},{"i":187,"v":37.0},{"i":189.1,"v":39.2},{"i":191,"v":38.0},{"i":194.1,"v":40.8},{"i":196.6,"v":47.2},{"i":199.1,"v":51.5},{"i":201.6,"v":53.6},{"i":204.1,"v":49.9},{"i":206.1,"v":42.9},{"i":207.5,"v":44.0},{"i":209.1,"v":41.9},{"i":211.6,"v":36.5},{"i":214.1,"v":35.5},{"i":216,"v":37.0},{"i":217,"v":33.9},{"i":219.1,"v":31.2},{"i":221.6,"v":36.5},{"i":224.1,"v":39.2},{"i":226.6,"v":41.9},{"i":229.1,"v":44.5},{"i":231.6,"v":41.9},{"i":234.1,"v":42.5},{"i":235.5,"v":36.5},{"i":238,"v":37.0},{"i":240,"v":40.0},{"i":242,"v":48.3},{"i":244.1,"v":47.2},{"i":246.6,"v":47.5},{"i":247.5,"v":40.0},{"i":249.1,"v":36.5},{"i":251.6,"v":35.6},{"i":254.1,"v":38.9},{"i":256.6,"v":42.5},{"i":259.1,"v":45.2},{"i":261.6,"v":46.3},{"i":264.1,"v":49.9},{"i":266.6,"v":55.2},{"i":269.1,"v":56.9},{"i":271.6,"v":60.5},{"i":273.4,"v":63.2},{"i":275.1,"v":62.1},{"i":276.1,"v":56.8},{"i":277,"v":57.9}
 ]
},
"vconcat": [
 {
  "width": 1394, "height": 536,
  "layer": [
   {"data": {"name": "fib"}, "mark": {"type": "rule", "color": "#ffff00", "strokeWidth": 1},
    "encoding": {"y": {"field": "p", "type": "quantitative", "scale": {"domain": [1.2597, 1.36643], "nice": false, "zero": false},
      "axis": {"orient": "right", "title": null, "values": [1.2601, 1.2664, 1.27285, 1.27915, 1.2856, 1.2983, 1.3048, 1.3111, 1.31755, 1.32385, 1.3303, 1.3366, 1.34305, 1.34935, 1.3558, 1.36225], "format": ".5f", "tickSize": 3, "labelPadding": 3, "labelOverlap": false, "labelBound": false}}}},
   {"data": {"name": "fib"}, "mark": {"type": "rule", "color": "#ff0000", "strokeWidth": 1},
    "encoding": {"y": {"datum": 1.29747, "type": "quantitative"}}},
   {"data": {"name": "fib"}, "mark": {"type": "rule", "color": "#8c8c96", "strokeWidth": 1},
    "encoding": {"y": {"datum": 1.29174, "type": "quantitative"}}},
   {"data": {"name": "trend"}, "mark": {"type": "line", "color": "#ff0000", "strokeWidth": 1, "strokeDash": [3, 3], "clip": true},
    "encoding": {"x": {"field": "i", "type": "quantitative", "scale": {"domain": [-0.375, 348.125], "nice": false, "zero": false}, "axis": null},
     "y": {"field": "p", "type": "quantitative"}}},
   {"data": {"name": "c"}, "mark": {"type": "rule", "color": "#00ff00", "strokeWidth": 1},
    "encoding": {"x": {"field": "i", "type": "quantitative"}, "y": {"field": "l", "type": "quantitative"}, "y2": {"field": "h"}}},
   {"data": {"name": "c"}, "mark": {"type": "bar", "color": "#00ff00", "size": 3},
    "encoding": {"x": {"field": "i", "type": "quantitative"}, "y": {"field": "o", "type": "quantitative"}, "y2": {"field": "c"}}},
   {"data": {"name": "c"}, "transform": [{"filter": "abs(datum.o - datum.c) >= 0.0007"}], "mark": {"type": "rule", "color": "#d2ffd2", "strokeWidth": 1},
    "encoding": {"x": {"field": "i", "type": "quantitative"}, "y": {"field": "o", "type": "quantitative"}, "y2": {"field": "c"}}},
   {"data": {"name": "ma3"}, "mark": {"type": "line", "color": "#0000ff", "strokeWidth": 1},
    "encoding": {"x": {"field": "i", "type": "quantitative"}, "y": {"field": "v", "type": "quantitative"}}},
   {"data": {"name": "ma2"}, "mark": {"type": "line", "color": "#ff0000", "strokeWidth": 1},
    "encoding": {"x": {"field": "i", "type": "quantitative"}, "y": {"field": "v", "type": "quantitative"}}},
   {"data": {"name": "ma1"}, "mark": {"type": "line", "color": "#ffff00", "strokeWidth": 1},
    "encoding": {"x": {"field": "i", "type": "quantitative"}, "y": {"field": "v", "type": "quantitative"}}},
   {"data": {"name": "fib"}, "mark": {"type": "text", "color": "#e8e800", "align": "right", "baseline": "bottom", "dy": -1},
    "encoding": {"x": {"datum": 347.6, "type": "quantitative"}, "y": {"field": "p", "type": "quantitative"}, "text": {"field": "lab"}}},
   {"data": {"values": [{"t": "EURUSD,H4\u00a0 1.28992 1.29312 1.28895 1.29174"}]}, "mark": {"type": "text", "color": "#ffffff", "align": "left", "baseline": "middle"},
    "encoding": {"x": {"datum": 0.875, "type": "quantitative"}, "y": {"datum": 1.36484, "type": "quantitative"}, "text": {"field": "t"}}},
   {"data": {"values": [{"t": "1.29747", "p": 1.29747, "lo": 1.29614, "hi": 1.29853}]}, "mark": {"type": "rect", "color": "#ff0000"},
    "encoding": {"x": {"datum": 348.7, "type": "quantitative"}, "x2": {"datum": 360}, "y": {"field": "lo", "type": "quantitative"}, "y2": {"field": "hi"}}},
   {"data": {"values": [{"t": "1.29747", "p": 1.29747}]}, "mark": {"type": "text", "color": "#000000", "align": "left", "baseline": "middle"},
    "encoding": {"x": {"datum": 350, "type": "quantitative"}, "y": {"field": "p", "type": "quantitative"}, "text": {"field": "t"}}},
   {"data": {"values": [{"t": "1.29174", "p": 1.29174, "lo": 1.29057, "hi": 1.29276}]}, "mark": {"type": "rect", "color": "#ffffff"},
    "encoding": {"x": {"datum": 348.7, "type": "quantitative"}, "x2": {"datum": 360}, "y": {"field": "lo", "type": "quantitative"}, "y2": {"field": "hi"}}},
   {"data": {"values": [{"t": "1.29174", "p": 1.29174}]}, "mark": {"type": "text", "color": "#000000", "align": "left", "baseline": "middle"},
    "encoding": {"x": {"datum": 350, "type": "quantitative"}, "y": {"field": "p", "type": "quantitative"}, "text": {"field": "t"}}}
  ]
 },
 {
  "width": 1394, "height": 187,
  "layer": [
   {"data": {"values": [{"v": 70}, {"v": 30}]}, "mark": {"type": "rule", "color": "#c8c8c8", "strokeWidth": 1, "strokeDash": [3, 3]},
    "encoding": {"y": {"field": "v", "type": "quantitative", "scale": {"domain": [0, 100], "nice": false, "zero": false},
      "axis": {"orient": "right", "title": null, "values": [0, 30, 70, 100], "tickSize": 2, "labelPadding": 2, "labelFlush": true, "labelOverlap": false}}}},
   {"data": {"name": "rsi"}, "mark": {"type": "line", "color": "#1e90ff", "strokeWidth": 1},
    "encoding": {"x": {"field": "i", "type": "quantitative", "scale": {"domain": [-0.375, 348.125], "nice": false, "zero": false},
      "axis": {"orient": "bottom", "title": null, "values": [0, 16, 32, 48, 64, 80, 96, 112, 128, 144, 160, 176, 192, 208, 224, 240, 256, 272], "tickSize": 4, "labelAlign": "left", "labelBaseline": "top", "labelPadding": 1, "labelOffset": 2, "labelOverlap": false, "labelBound": false, "labelFlush": false,
       "labelExpr": "['17 Nov 2011','21 Nov 16:00','24 Nov 08:00','29 Nov 00:00','1 Dec 16:00','6 Dec 08:00','9 Dec 00:00','13 Dec 16:00','16 Dec 08:00','21 Dec 00:00','23 Dec 16:00','28 Dec 08:00','2 Jan 08:00','5 Jan 00:00','9 Jan 16:00','12 Jan 08:00','17 Jan 00:00','19 Jan 16:00'][round(datum.value/16)]"}},
     "y": {"field": "v", "type": "quantitative"}}},
   {"data": {"values": [{"t": "RSI(28) 57.9135"}]}, "mark": {"type": "text", "color": "#ffffff", "align": "left", "baseline": "middle"},
    "encoding": {"x": {"datum": 0.875, "type": "quantitative"}, "y": {"datum": 94.7, "type": "quantitative"}, "text": {"field": "t"}}},
   {"data": {"values": [{"t": "FXDD - MetaTrader, ? 2001-2011 MetaQuotes Software Corp."}]}, "mark": {"type": "text", "color": "#ffffff", "align": "left", "baseline": "middle"},
    "encoding": {"x": {"datum": 0.625, "type": "quantitative"}, "y": {"datum": 5.1, "type": "quantitative"}, "text": {"field": "t"}}}
  ]
 }
]
}
